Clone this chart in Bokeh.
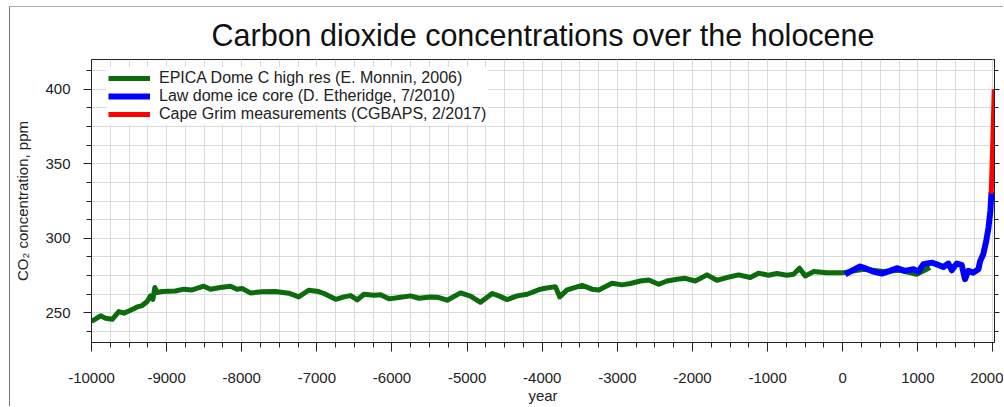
from bokeh.plotting import figure
from bokeh.models import (ColumnDataSource, FixedTicker, LinearAxis, Range1d,
                          Legend, LegendItem, CustomLabelingPolicy)
from bokeh.embed import file_html
from bokeh.resources import INLINE

# ---------------- data ----------------
epica_year = [-10000, -9879, -9813, -9724, -9636, -9569, -9480, -9392, -9325, -9259,
              -9214, -9183, -9157, -9126, -9060, -8882, -8771, -8660, -8505, -8417,
              -8284, -8151, -8062, -7996, -7885, -7730, -7552, -7375, -7242, -7109,
              -6976, -6905, -6750, -6639, -6551, -6462, -6373, -6240, -6152, -6041,
              -5908, -5753, -5642, -5487, -5376, -5265, -5088, -4955, -4822, -4667,
              -4578, -4467, -4334, -4201, -4024, -3980, -3825, -3767, -3669, -3470,
              -3337, -3248, -3071, -2938, -2827, -2694, -2583, -2450, -2339, -2206,
              -2096, -1963, -1807, -1675, -1542, -1386, -1231, -1121, -988, -877,
              -744, -655, -575, -500, -389, -212, 10, 276, 542, 763, 985, 1162]
epica_ppm = [244.1, 247.9, 246.3, 245.6, 250.8, 249.7, 251.7, 253.9, 254.8, 257.5,
             261.3, 259.0, 266.9, 263.5, 264.2, 264.6, 265.8, 265.3, 267.8, 265.8,
             266.9, 267.8, 265.8, 266.2, 263.3, 264.0, 264.2, 263.1, 260.6, 265.1,
             264.2, 262.9, 259.0, 260.6, 261.5, 258.6, 262.4, 261.7, 262.0, 259.3,
             260.2, 261.3, 259.7, 260.6, 260.2, 258.4, 263.3, 261.1, 257.0, 262.9,
             261.3, 258.8, 261.3, 262.4, 265.8, 266.2, 267.5, 260.6, 265.3, 268.4,
             265.8, 265.3, 269.8, 268.7, 269.6, 271.3, 272.0, 269.1, 271.3, 272.5,
             273.1, 271.3, 275.4, 271.8, 273.6, 275.4, 273.6, 276.5, 275.2, 276.3,
             275.2, 275.8, 279.9, 274.7, 277.6, 276.9, 276.9, 279.2, 277.6, 278.5,
             275.8, 280.3]

lawdome_year = [32, 98, 231, 298, 409, 520, 630, 719, 830, 941, 1007, 1074, 1185,
                1273, 1340, 1406, 1451, 1517, 1583, 1628, 1672, 1739, 1805, 1830,
                1870, 1910, 1940, 1965, 1980]
lawdome_ppm = [275.8, 277.6, 281.0, 279.9, 277.6, 276.3, 278.1, 279.9, 278.1, 279.2,
               277.6, 282.5, 283.6, 282.1, 280.7, 283.0, 278.5, 283.0, 282.1, 272.5,
               278.1, 276.9, 279.2, 284.8, 289.2, 298.2, 307.1, 318.3, 331.0]

capegrim_year = [1976, 1985, 1995, 2005, 2016]
capegrim_ppm = [330.0, 344.0, 360.0, 378.0, 400.0]

series_labels = ["EPICA Dome C high res (E. Monnin, 2006)",
                 "Law dome ice core (D. Etheridge, 7/2010)",
                 "Cape Grim measurements (CGBAPS, 2/2017)"]
series_colors = ["#0c6b0c", "#0000ff", "#ff0000"]

x_ticks = [-10000, -9000, -8000, -7000, -6000, -5000, -4000, -3000, -2000, -1000, 0, 1000, 2000]
x_tick_labels = ["-10000", "-9000", "-8000", "-7000", "-6000", "-5000", "-4000",
                 "-3000", "-2000", "-1000", "0", "1000", "2000"]
y_ticks = [250, 300, 350, 400]
y_tick_labels = ["250", "300", "350", "400"]

title_text = "Carbon dioxide concentrations over the holocene"
x_label = "year"
y_label = "CO\u2082 concentration, ppm"

# ---------------- figure ----------------
FONT = "Liberation Sans"

p = figure(width=994, height=400, output_backend="svg", toolbar_location=None,
           x_range=Range1d(-10000, 2020), y_range=Range1d(230, 420),
           min_border_left=81, min_border_top=52, min_border_right=10,
           min_border_bottom=65, title=title_text)
p.styles = {"margin-left": "9px", "margin-top": "6px",
            "border-left": "1px solid #777", "border-top": "1px solid #aaa"}

p.title.align = "center"
p.title.text_font = FONT
p.title.text_font_size = "30.5px"
p.title.text_font_style = "normal"
p.title.text_color = "#111111"
p.title.standoff = 16

p.background_fill_color = "white"
p.border_fill_color = "white"
p.outline_line_color = "#222222"
p.outline_line_width = 1

x_minor = list(range(-10000, 2001, 250))
y_minor = [225 + 12.5 * i for i in range(17)]
xt = FixedTicker(ticks=x_ticks, minor_ticks=x_minor)
yt = FixedTicker(ticks=y_ticks, minor_ticks=y_minor)

p.xaxis.ticker = xt
p.yaxis.ticker = yt
p.xgrid.ticker = xt
p.ygrid.ticker = yt
for g in (p.xgrid, p.ygrid):
    g.grid_line_color = "#dadada"
    g.minor_grid_line_color = "#dadada"
    g.grid_line_width = 1
    g.minor_grid_line_width = 1

p.xaxis.major_label_overrides = {t: l for t, l in zip(x_ticks, x_tick_labels)}
p.yaxis.major_label_overrides = {t: l for t, l in zip(y_ticks, y_tick_labels)}

for ax in (p.xaxis, p.yaxis):
    ax.axis_line_color = "#222222"
    ax.major_tick_line_color = "#222222"
    ax.minor_tick_line_color = "#222222"
    ax.major_tick_in = 0
    ax.minor_tick_in = 0
    ax.major_label_text_font = FONT
    ax.major_label_text_font_size = "15px"
    ax.major_label_text_color = "#222222"
    ax.axis_label_text_font = FONT
    ax.axis_label_text_font_size = "15px"
    ax.axis_label_text_font_style = "normal"
    ax.axis_label_text_color = "#222222"

p.xaxis.axis_label = x_label
p.xaxis.major_tick_out = 9
p.xaxis.minor_tick_out = 5
p.xaxis.major_label_standoff = 21
p.xaxis.axis_label_standoff = 1

p.yaxis.axis_label = y_label
p.yaxis.major_tick_out = 8
p.yaxis.minor_tick_out = 5
p.yaxis.major_label_standoff = 13
p.yaxis.axis_label_standoff = 11

# right-hand axis: ticks only, no labels drawn
no_labels = CustomLabelingPolicy(code="return new indices.constructor(indices.size, 0)")
right = LinearAxis(ticker=yt, major_label_policy=no_labels,
                   major_label_text_font_size="0px",
                   major_tick_in=0, minor_tick_in=0, major_tick_out=5,
                   minor_tick_out=4, major_label_standoff=0,
                   axis_line_color="#222222", major_tick_line_color="#222222",
                   minor_tick_line_color="#222222")
p.add_layout(right, "right")

src_e = ColumnDataSource(dict(x=epica_year, y=epica_ppm))
src_l = ColumnDataSource(dict(x=lawdome_year, y=lawdome_ppm))
src_c = ColumnDataSource(dict(x=capegrim_year, y=capegrim_ppm))

r1 = p.line("x", "y", source=src_e, line_color=series_colors[0], line_width=5,
            line_join="round")
r2 = p.line("x", "y", source=src_l, line_color=series_colors[1], line_width=6,
            line_join="round")
r3 = p.line("x", "y", source=src_c, line_color=series_colors[2], line_width=5,
            line_join="round")

legend = Legend(items=[LegendItem(label=series_labels[0], renderers=[r1]),
                       LegendItem(label=series_labels[1], renderers=[r2]),
                       LegendItem(label=series_labels[2], renderers=[r3])],
                location=(15, 217), margin=0, padding=2, spacing=0,
                label_height=18, glyph_height=18, glyph_width=42,
                label_standoff=9, label_text_font=FONT,
                label_text_font_size="16px", label_text_color="#222222",
                background_fill_color="white", background_fill_alpha=1.0,
                border_line_alpha=0)
p.add_layout(legend, "center")

open("out.html", "w").write(file_html(p, INLINE))
